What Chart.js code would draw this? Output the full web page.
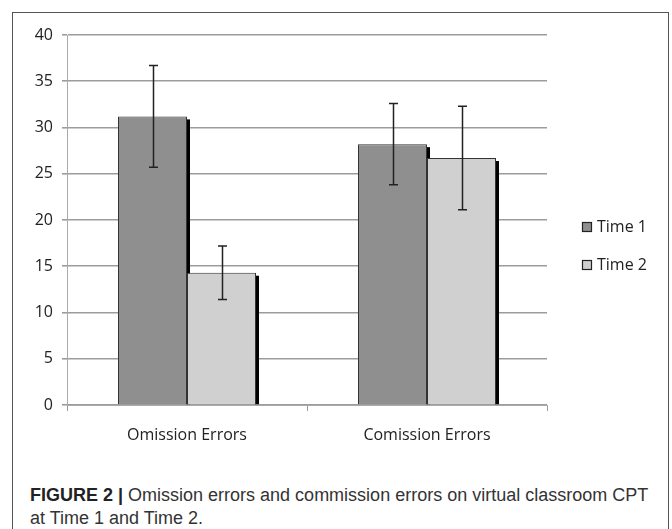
<!DOCTYPE html>
<html>
<head>
<meta charset="utf-8">
<script src="https://cdn.jsdelivr.net/npm/chart.js@4.4.1/dist/chart.umd.min.js"></script>
<style>
  body { margin: 0; background: #fff; }
  #frame {
    position: absolute; left: 12px; top: 12px; width: 657px; height: 560px;
    border: 1px solid #555; box-sizing: border-box;
  }
  #wrap { position: absolute; left: 0; top: 0; width: 672px; height: 460px; }
  #caption {
    position: absolute; left: 30px; top: 484px; width: 628px;
    font-family: "Liberation Sans Narrow", "Liberation Sans", Arial, sans-serif;
    font-size: 18px; line-height: 23px; color: #333;
  }
  #caption b { color: #222; }
</style>
</head>
<body>
<div id="frame"></div>
<div id="wrap"><canvas id="chart"></canvas></div>
<div id="caption"><b>FIGURE 2 |</b> Omission errors and commission errors on virtual classroom CPT at Time 1 and Time 2.</div>
<script>
const categories = ['Omission Errors', 'Comission Errors'];
const time1 = [31.2, 28.2];
const time2 = [14.3, 26.7];
const time1Err = [5.5, 4.4];
const time2Err = [2.9, 5.6];
const yTicks = [0, 5, 10, 15, 20, 25, 30, 35, 40];

const fontFam = '"Open Sans", sans-serif';

// black drop edge on the right side of each bar
const shadowPlugin = {
  id: 'barShadow',
  beforeDatasetsDraw(chart) {
    const ctx = chart.ctx;
    ctx.save();
    ctx.fillStyle = '#000';
    chart.data.datasets.forEach((ds, i) => {
      chart.getDatasetMeta(i).data.forEach(bar => {
        const right = bar.x + bar.width / 2;
        ctx.fillRect(right - 1, bar.y + 3, 4, bar.base - bar.y - 3);
      });
    });
    ctx.restore();
  }
};

const errorPlugin = {
  id: 'errorBars',
  afterDatasetsDraw(chart) {
    const ctx = chart.ctx;
    const y = chart.scales.y;
    const errs = [time1Err, time2Err];
    ctx.save();
    ctx.strokeStyle = '#222';
    ctx.lineWidth = 1.5;
    chart.data.datasets.forEach((ds, i) => {
      chart.getDatasetMeta(i).data.forEach((bar, j) => {
        const v = ds.data[j];
        const top = y.getPixelForValue(v + errs[i][j]);
        const bot = y.getPixelForValue(v - errs[i][j]);
        const x = Math.round(bar.x) + 0.5;
        ctx.beginPath();
        ctx.moveTo(x, top); ctx.lineTo(x, bot);
        ctx.moveTo(x - 4.5, top); ctx.lineTo(x + 4.5, top);
        ctx.moveTo(x - 4.5, bot); ctx.lineTo(x + 4.5, bot);
        ctx.stroke();
      });
    });
    ctx.restore();
  }
};

const legendPlugin = {
  id: 'sideLegend',
  afterDraw(chart) {
    const ctx = chart.ctx;
    const x0 = chart.chartArea.right + 35;
    const rows = [227, 265];
    ctx.save();
    ctx.font = '16px ' + fontFam;
    ctx.textBaseline = 'middle';
    chart.data.datasets.forEach((ds, i) => {
      const cy = rows[i];
      ctx.fillStyle = ds.backgroundColor;
      ctx.fillRect(x0, cy - 5, 10, 10);
      ctx.strokeStyle = '#222';
      ctx.lineWidth = 1.2;
      ctx.strokeRect(x0 + 0.5, cy - 4.5, 9, 9);
      ctx.fillStyle = '#222';
      ctx.fillText(ds.label, x0 + 15, cy);
    });
    ctx.restore();
  }
};

new Chart(document.getElementById('chart'), {
  type: 'bar',
  data: {
    labels: categories,
    datasets: [
      { label: 'Time 1', data: time1, backgroundColor: '#8f8f8f', borderColor: '#333', borderWidth: 1 },
      { label: 'Time 2', data: time2, backgroundColor: '#d0d0d0', borderColor: '#333', borderWidth: 1 }
    ]
  },
  options: {
    responsive: true,
    maintainAspectRatio: false,
    animation: false,
    layout: { padding: { left: 20, top: 35, right: 125, bottom: 5 } },
    datasets: { bar: { categoryPercentage: 0.575, barPercentage: 1 } },
    plugins: { legend: { display: false }, tooltip: { enabled: false } },
    scales: {
      x: {
        offset: true,
        grid: { offset: true, drawOnChartArea: false, color: '#999', tickLength: 6 },
        border: { color: '#aaa' },
        ticks: { color: '#222', font: { family: fontFam, size: 16 }, padding: 15 },
        afterFit: s => { s.height = 50; }
      },
      y: {
        min: 0, max: 40,
        afterBuildTicks: s => { s.ticks = yTicks.map(v => ({ value: v })); },
        grid: { color: '#9c9c9c', lineWidth: 1.6, tickLength: 5 },
        border: { color: '#aaa' },
        ticks: { color: '#222', font: { family: fontFam, size: 16 }, padding: 9 },
        afterFit: s => { s.width = 47; }
      }
    }
  },
  plugins: [shadowPlugin, errorPlugin, legendPlugin]
});
</script>
</body>
</html>
